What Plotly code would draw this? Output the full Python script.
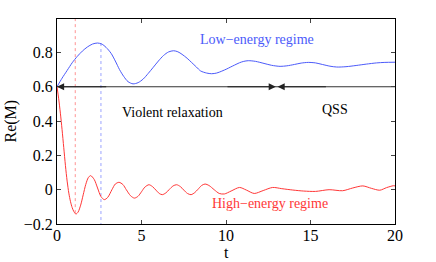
import plotly.graph_objects as go

# Low-energy regime (blue)
t_low = [0, 0.3, 0.6, 0.9, 1.2, 1.5, 1.8, 2.1, 2.4, 2.65, 2.9, 3.2, 3.45, 3.7, 3.95, 4.2, 4.5,
         4.8, 5.1, 5.4, 5.7, 6.0, 6.3, 6.6, 6.9, 7.15, 7.4, 7.7, 7.95, 8.25, 8.5, 8.85, 9.15,
         9.45, 9.75, 10.05, 10.25, 10.5, 10.8, 11.05, 11.32, 11.75, 12.25, 12.7, 13.2, 13.6,
         14.05, 14.45, 14.87, 15.3, 15.7, 16.15, 16.55, 17.1, 17.7, 18.3, 18.9, 19.4, 20]
m_low = [0.600, 0.650, 0.695, 0.740, 0.777, 0.808, 0.832, 0.849, 0.855, 0.849, 0.830, 0.795,
         0.750, 0.700, 0.660, 0.630, 0.617, 0.624, 0.645, 0.678, 0.714, 0.750, 0.782, 0.803,
         0.810, 0.804, 0.789, 0.766, 0.743, 0.715, 0.692, 0.680, 0.676, 0.680, 0.691, 0.704,
         0.714, 0.726, 0.740, 0.748, 0.752, 0.748, 0.736, 0.725, 0.719, 0.722, 0.730, 0.738,
         0.742, 0.739, 0.730, 0.720, 0.715, 0.717, 0.724, 0.732, 0.739, 0.742, 0.743]

# High-energy regime (red)
t_high = [0, 0.1, 0.2, 0.3, 0.4, 0.5, 0.6, 0.7, 0.8, 0.9, 1.0, 1.12, 1.25, 1.4, 1.55, 1.7, 1.85,
          1.99, 2.2, 2.4, 2.6, 2.8, 3.0, 3.25, 3.45, 3.67, 3.9, 4.1, 4.35, 4.58, 4.8, 5.0, 5.2,
          5.44, 5.65, 5.85, 6.05, 6.23, 6.45, 6.65, 6.87, 7.08, 7.3, 7.5, 7.72, 7.93, 8.15, 8.35,
          8.55, 8.76, 9.0, 9.3, 9.6, 9.9, 10.3, 10.8, 11.2, 11.67, 12.2, 12.76, 13.3, 13.95,
          14.6, 15.3, 16.1, 16.9, 17.5, 18.1, 18.6, 19.1, 19.5, 19.9, 20]
m_high = [0.6, 0.53, 0.446, 0.35, 0.245, 0.14, 0.05, -0.02, -0.07, -0.105, -0.128, -0.142,
          -0.13, -0.09, -0.03, 0.03, 0.07, 0.082, 0.06, 0.01, -0.04, -0.058, -0.045, 0.0, 0.033,
          0.043, 0.03, 0.0, -0.035, -0.049, -0.038, -0.012, 0.015, 0.029, 0.018, -0.002, -0.022,
          -0.029, -0.018, 0.002, 0.022, 0.029, 0.018, -0.002, -0.022, -0.029, -0.017, 0.003,
          0.024, 0.033, 0.024, 0.0, -0.022, -0.025, -0.008, 0.013, -0.002, -0.022, -0.005,
          0.013, 0.006, -0.002, -0.008, -0.01, 0.0, -0.006, 0.01, 0.022, 0.008, -0.003, 0.012,
          0.023, 0.022]

# markers of characteristic times
t_red_min, m_red_min = 1.08, -0.142
t_blue_max, m_blue_max = 2.6, 0.855
m_level = 0.6
t_qss = 13.0
t_span = [0, 20]

x_ticks = [0, 5, 10, 15, 20]
y_ticks = [-0.2, 0, 0.2, 0.4, 0.6, 0.8]
y_tick_text = ["\u22120.2", "0", "0.2", "0.4", "0.6", "0.8"]

BLUE = "rgb(75,90,250)"
RED = "rgb(255,55,55)"
FONT = "Liberation Serif"

fig = go.Figure()

# dotted vertical guides
fig.add_trace(go.Scatter(x=[t_red_min, t_red_min], y=[1.0, m_red_min], mode="lines",
                         line=dict(color="rgba(255,120,120,0.8)", width=1, dash="dot"),
                         showlegend=False, hoverinfo="skip"))
fig.add_trace(go.Scatter(x=[t_blue_max, t_blue_max], y=[m_blue_max, -0.2], mode="lines",
                         line=dict(color="rgba(130,140,255,0.8)", width=1, dash="dot"),
                         showlegend=False, hoverinfo="skip"))

# horizontal level line
fig.add_trace(go.Scatter(x=t_span, y=[m_level, m_level], mode="lines",
                         line=dict(color="#333", width=1.1), showlegend=False, hoverinfo="skip"))

fig.add_trace(go.Scatter(x=t_low, y=m_low, mode="lines",
                         line=dict(color=BLUE, width=1, shape="spline", smoothing=0.8),
                         showlegend=False))
fig.add_trace(go.Scatter(x=t_high, y=m_high, mode="lines",
                         line=dict(color=RED, width=1, shape="spline", smoothing=0.8),
                         showlegend=False))

# arrow heads
arrows = [
    (3.0, 0.0),
    (10.0, t_qss - 0.05),
    (16.0, t_qss + 0.05),
]
for tail, head in arrows:
    fig.add_annotation(x=head, y=m_level, ax=tail, ay=m_level, xref="x", yref="y",
                       axref="x", ayref="y", showarrow=True, arrowhead=2, arrowsize=1.3,
                       arrowwidth=1.1, arrowcolor="#222", text="")

fig.add_annotation(x=11.83, y=0.874, text="Low\u2212energy regime", showarrow=False,
                   font=dict(family=FONT, size=14, color=BLUE))
fig.add_annotation(x=6.86, y=0.452, text="Violent relaxation", showarrow=False,
                   font=dict(family=FONT, size=14, color="black"))
fig.add_annotation(x=16.45, y=0.466, text="QSS", showarrow=False,
                   font=dict(family=FONT, size=14, color="black"))
fig.add_annotation(x=12.6, y=-0.08, text="High\u2212energy regime", showarrow=False,
                   font=dict(family=FONT, size=14, color=RED))

# axis titles
fig.add_annotation(x=0.5, y=-0.139, xref="paper", yref="paper", text="t", showarrow=False,
                   yanchor="middle", font=dict(family=FONT, size=16, color="black"))
fig.add_annotation(x=-0.139, y=0.5, xref="paper", yref="paper", text="Re(M)", showarrow=False,
                   textangle=-90, xanchor="center", yanchor="middle",
                   font=dict(family=FONT, size=16, color="black"))

fig.update_layout(
    width=436, height=262,
    margin=dict(l=57, r=41, t=19, b=38, autoexpand=False),
    paper_bgcolor="white", plot_bgcolor="white",
    font=dict(family=FONT, size=16, color="black"),
)
fig.update_xaxes(range=[0, 20], tickvals=x_ticks, ticks="inside", ticklen=4, mirror="ticks",
                 showline=True, linecolor="black", linewidth=1, showgrid=False, zeroline=False,
                 tickfont=dict(family=FONT, size=16), automargin=False, ticklabelstandoff=-3)
fig.update_yaxes(range=[-0.2, 0.995], tickvals=y_ticks, ticktext=y_tick_text, ticks="inside",
                 ticklen=4, mirror="ticks", showline=True, linecolor="black", linewidth=1,
                 showgrid=False, zeroline=False, tickfont=dict(family=FONT, size=16),
                 automargin=False)

fig.write_html("out.html", config={"displayModeBar": False},
               post_script="document.body.style.margin='0px';document.body.style.overflow='hidden';")
